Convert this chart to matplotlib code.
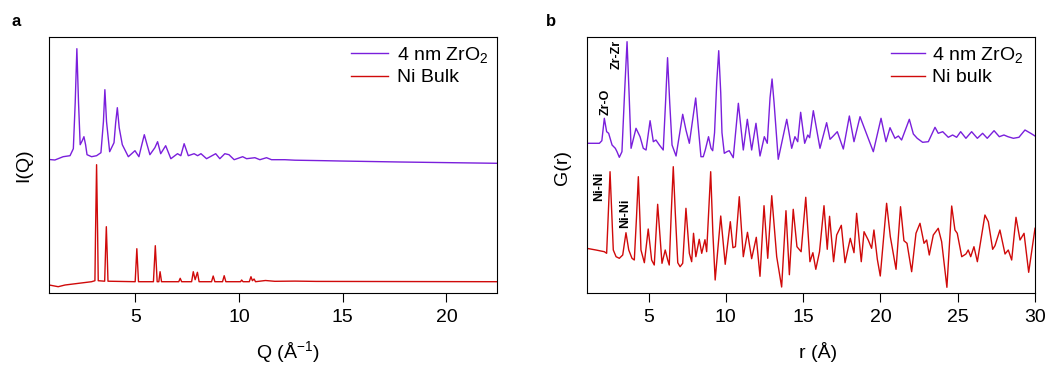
import matplotlib
matplotlib.use("Agg")
import matplotlib.pyplot as plt

plt.rcParams['font.family'] = ['Liberation Sans', 'DejaVu Sans']
plt.rcParams['mathtext.fontset'] = 'custom'
plt.rcParams['mathtext.rm'] = 'Liberation Sans'
plt.rcParams['mathtext.it'] = 'Liberation Sans:italic'
plt.rcParams['mathtext.bf'] = 'Liberation Sans:bold'

# ---- panel a: I(Q), arbitrary units (curves already offset) ----
q_zro2 = [0.86, 1.13, 1.53, 1.86, 2.02, 2.11, 2.19, 2.27, 2.35, 2.45, 2.53, 2.61, 2.68,
          2.90, 3.14, 3.35, 3.47, 3.54, 3.62, 3.77, 3.98, 4.06, 4.14, 4.23, 4.38, 4.67,
          4.99, 5.18, 5.32, 5.44, 5.56, 5.71, 5.95, 6.08, 6.23, 6.47, 6.72, 7.04, 7.20,
          7.36, 7.56, 7.84, 8.01, 8.17, 8.44, 8.88, 9.08, 9.32, 9.52, 9.77, 10.18, 10.37,
          10.77, 11.01, 11.33, 11.57, 12.21, 12.70, 14.14, 14.86, 17.75, 22.45]
i_zro2 = [133.2, 132.7, 136, 137, 144, 190, 244, 190, 148, 152, 156, 148, 138,
          136, 137, 140, 171, 203, 171, 141, 150, 170, 185, 165, 148, 136,
          142, 136, 148, 158, 149, 138, 145, 151, 139, 147, 134, 139, 137,
          149, 137, 139, 137, 139, 134, 139, 134, 139, 138, 133, 136, 134,
          135, 133, 135, 133, 133, 132.5, 132, 131.7, 130.7, 129.4]

q_ni = [0.86, 1.29, 1.62, 2.90, 3.06, 3.09, 3.14, 3.19, 3.22, 3.53, 3.57, 3.61, 3.65,
        3.69, 5.00, 5.08, 5.16, 5.88, 5.97, 6.06, 6.14, 6.20, 6.27, 7.10, 7.17, 7.24,
        7.72, 7.80, 7.89, 8.00, 8.08, 8.68, 8.76, 8.84, 9.21, 9.29, 9.37, 10.08, 10.13,
        10.20, 10.50, 10.58, 10.65, 10.73, 10.80, 11.28, 11.73, 12.70, 13.74, 22.45]
i_ni = [7.7, 6, 7.7, 11, 12, 60, 128, 60, 12, 11.5, 40, 66, 40,
        11.5, 11, 44, 11, 11, 47, 11, 11, 21, 11, 11, 14.4, 11,
        11, 21, 13, 20.4, 11, 11, 16.7, 11, 11, 17, 11, 11, 12.7,
        11, 11, 16, 12, 13.7, 11, 12.2, 11.4, 11.6, 11.3, 11]

# ---- panel b: G(r), arbitrary units (curves already offset) ----
r_zro2 = [1.0, 1.82, 1.98, 2.14, 2.29, 2.42, 2.64, 2.85, 2.96, 3.11, 3.28, 3.45, 3.61,
          3.74, 3.87, 4.19, 4.45, 4.66, 4.84, 5.10, 5.31, 5.48, 5.70, 5.95, 6.10, 6.23,
          6.37, 6.52, 6.78, 7.21, 7.42, 7.64, 8.05, 8.39, 8.54, 8.67, 8.88, 9.04, 9.15,
          9.27, 9.41, 9.54, 9.67, 9.75, 9.90, 10.07, 10.22, 10.48, 10.81, 11.13, 11.39,
          11.67, 11.95, 12.21, 12.49, 12.68, 12.86, 12.99, 13.12, 13.39, 13.94, 14.26,
          14.47, 14.65, 14.84, 15.10, 15.30, 15.42, 15.66, 16.09, 16.52, 16.74, 16.95,
          17.21, 17.60, 17.99, 18.29, 18.68, 18.94, 19.54, 20.04, 20.36, 20.62, 20.94,
          21.16, 21.37, 21.87, 22.13, 22.38, 22.73, 23.10, 23.53, 23.74, 24.03, 24.39,
          24.67, 24.93, 25.19, 25.53, 25.90, 26.27, 26.61, 26.91, 27.35, 27.69, 27.99,
          28.25, 28.60, 28.96, 29.35, 29.72, 30.0]
g_zro2 = [149.4, 149.4, 152, 174.4, 161, 159.4, 147.7, 144.4, 141, 135.4, 141, 200, 251,
          200, 144.4, 164.4, 156, 144.4, 142.7, 172, 151, 152.7, 147.7, 142.7, 190, 235,
          190, 147.7, 136.7, 178.4, 162.7, 149.4, 194.7, 136, 136, 142.7, 156, 144.4, 142,
          160, 210, 242, 200, 160, 139.4, 141, 142, 135, 189.4, 142.7, 173.4,
          142.7, 169.4, 136.7, 156, 149.4, 195, 213.7, 190, 133.4, 173.4, 144.4,
          156, 151, 180.4, 149.4, 157.7, 155, 182, 144.4, 170, 153.4, 156.7,
          161, 143.7, 176.7, 151, 176, 165.4, 141, 174.4, 151, 165, 154.4,
          156.7, 152.7, 173.4, 158.7, 154.4, 150.4, 151, 165.4, 159.4, 161, 155.4,
          157.7, 155.4, 161, 154.4, 161, 154.4, 159.4, 154.4, 162, 156, 157.7,
          156, 154.4, 155.4, 162.7, 159.4, 156.7]

r_ni = [1.0, 1.60, 2.14, 2.29, 2.40, 2.51, 2.62, 2.72, 2.90, 3.11, 3.33, 3.54, 3.72, 3.93,
        4.08, 4.22, 4.34, 4.44, 4.51, 4.73, 4.98, 5.20, 5.37, 5.59, 5.87, 6.08, 6.24, 6.34,
        6.47, 6.60, 6.73, 6.89, 7.04, 7.21, 7.42, 7.64, 7.79, 7.91, 8.06, 8.28, 8.44, 8.65,
        8.76, 8.89, 9.02, 9.16, 9.31, 9.67, 9.96, 10.29, 10.46, 10.62, 10.87, 11.13, 11.40,
        11.67, 11.97, 12.21, 12.47, 12.71, 12.97, 13.29, 13.61, 13.89, 14.11, 14.36, 14.60,
        14.87, 15.17, 15.44, 15.63, 15.82, 16.06, 16.35, 16.56, 16.71, 16.97, 17.17, 17.47,
        17.71, 18.05, 18.29, 18.46, 18.76, 18.94, 19.21, 19.43, 19.58, 19.80, 19.99, 20.40,
        20.64, 21.01, 21.30, 21.52, 21.72, 22.02, 22.30, 22.56, 22.82, 22.99, 23.16, 23.42,
        23.74, 23.96, 24.30, 24.61, 24.82, 24.97, 25.26, 25.53, 25.68, 25.84, 26.05, 26.27,
        26.76, 26.98, 27.26, 27.41, 27.73, 28.06, 28.27, 28.49, 28.77, 29.03, 29.29, 29.59,
        30.0]
g_ni = [44.4, 42.7, 41, 39.4, 80, 121, 80, 42.7, 36, 34.4, 37.7, 60, 42.7, 34.4,
        32.7, 75, 116, 75, 42.7, 30, 63.7, 32.7, 27.7, 88.4, 29.4, 42.7, 32.7, 27.7,
        80, 126, 80, 30, 26, 29.4, 84.4, 39.4, 31, 59.4, 36, 53.4, 39.4, 53,
        41, 80, 121, 60, 12.7, 76.7, 28.4, 71, 45, 46, 96, 36, 60.4,
        34, 55.4, 16.4, 87, 34.4, 97, 36, 5.7, 82, 18, 83.4, 46,
        41, 95.4, 31, 40, 23.4, 41, 87, 43.4, 76.4, 31, 57.7, 67.4,
        30, 54.4, 40, 79.4, 31, 61, 52.7, 44.4, 62.7, 33.4, 16.7, 89.4,
        56, 23.4, 86, 52, 49.4, 21, 59.4, 69.4, 49.4, 52.7, 37.7, 57.7,
        64.4, 51, 5.4, 86.7, 62.7, 59.4, 36, 38.7, 42.7, 36, 46, 31,
        77.7, 71, 43.4, 47, 62.7, 38.7, 42.7, 32.7, 75.4, 52.7, 59.4, 20.4,
        64.4]

purple = '#7a1fdc'
red = '#d00a0a'

fig = plt.figure(figsize=(10.46, 3.68), dpi=100)
ax1 = fig.add_axes([0.0471, 0.2046, 0.4283, 0.6957])
ax2 = fig.add_axes([0.5609, 0.2046, 0.4286, 0.6957])

line_kw = dict(lw=1.0, solid_joinstyle='round')
ax1.plot(q_zro2, i_zro2, color=purple, label='4 nm ZrO$_2$', **line_kw)
ax1.plot(q_ni, i_ni, color=red, label='Ni Bulk', **line_kw)
ax1.set_xlim(0.86, 22.45)
ax1.set_xticks([5, 10, 15, 20])

ax2.plot(r_zro2, g_zro2, color=purple, label='4 nm ZrO$_2$', **line_kw)
ax2.plot(r_ni, g_ni, color=red, label='Ni bulk', **line_kw)
ax2.set_xlim(1, 30)
ax2.set_xticks([5, 10, 15, 20, 25, 30])

for ax in (ax1, ax2):
    ax.set_ylim(0, 256)
    ax.set_yticks([])
    ax.tick_params(axis='x', direction='out', length=6.5, width=0.8, labelsize=14, pad=5)
    for s in ax.spines.values():
        s.set_linewidth(0.8)

ax1.legend(loc='upper right', bbox_to_anchor=(0.98, 0.968), frameon=False,
           fontsize=14, handlelength=1.9, handletextpad=0.45, borderpad=0,
           borderaxespad=0, labelspacing=0.2)
ax2.legend(loc='upper right', bbox_to_anchor=(0.973, 0.968), frameon=False,
           fontsize=14, handlelength=1.7, handletextpad=0.36, borderpad=0,
           borderaxespad=0, labelspacing=0.2)

# axis labels
ax1.text(-0.056, 0.5, 'I(Q)', transform=ax1.transAxes, rotation=90,
         ha='center', va='center', fontsize=14)
ax2.text(-0.055, 0.49, 'G(r)', transform=ax2.transAxes, rotation=90,
         ha='center', va='center', fontsize=14)
ax1.text(0.532, -0.232, 'Q (Å$^{-1}$)', transform=ax1.transAxes,
         ha='center', va='center', fontsize=14)
ax2.text(0.516, -0.232, 'r (Å)', transform=ax2.transAxes,
         ha='center', va='center', fontsize=14)

# peak labels
ax2.text(2.25, 190.7, 'Zr-O', rotation=90, ha='center', va='center', fontsize=9, fontweight='bold')
ax2.text(2.94, 238.2, 'Zr-Zr', rotation=90, ha='center', va='center', fontsize=9, fontweight='bold')
ax2.text(1.80, 106, 'Ni-Ni', rotation=90, ha='center', va='center', fontsize=9, fontweight='bold')
ax2.text(3.50, 79.7, 'Ni-Ni', rotation=90, ha='center', va='center', fontsize=9, fontweight='bold')

# panel letters
fig.text(12 / 1046, 1 - 26 / 368, 'a', fontsize=12, fontweight='bold', va='baseline')
fig.text(546 / 1046, 1 - 26 / 368, 'b', fontsize=12, fontweight='bold', va='baseline')

fig.savefig('out.png', dpi=100)
